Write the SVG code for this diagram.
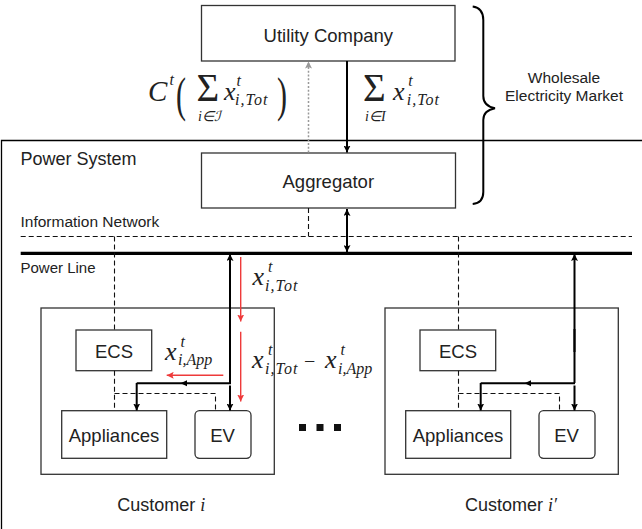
<svg xmlns="http://www.w3.org/2000/svg" width="642" height="529" viewBox="0 0 642 529">
<style>
.box{fill:#fff;stroke:#333;stroke-width:1.3}
.lbl{font-family:"Liberation Sans",Arial,sans-serif;fill:#222}
.node{font-size:18.5px;text-anchor:middle}
.small{font-size:15.5px}
.m{font-family:"Liberation Serif","Times New Roman",serif;font-style:italic;fill:#222}
.mr{font-family:"Liberation Serif","Times New Roman",serif;fill:#222}
.dash{fill:none;stroke:#111;stroke-width:1.1;stroke-dasharray:5 3}
.ln{fill:none;stroke:#000;stroke-width:2}
.red{fill:none;stroke:#ee3a3a;stroke-width:1.4;marker-end:url(#ahr)}
</style>
<defs>
<marker id="ah" viewBox="0 0 10 10" refX="10" refY="5" markerWidth="7" markerHeight="7" markerUnits="userSpaceOnUse" orient="auto-start-reverse"><path d="M0,0 L10,5 L0,10 L2,5 z" fill="#000"/></marker>
<marker id="ahr" viewBox="0 0 10 10" refX="10" refY="5" markerWidth="7" markerHeight="7" markerUnits="userSpaceOnUse" orient="auto"><path d="M0,0 L10,5 L0,10 L2,5 z" fill="#ee3a3a"/></marker>
<marker id="ahg" viewBox="0 0 10 10" refX="10" refY="5" markerWidth="7" markerHeight="7" markerUnits="userSpaceOnUse" orient="auto"><path d="M0,0 L10,5 L0,10 L2,5 z" fill="#999"/></marker>
</defs>
<rect width="642" height="529" fill="#fff"/>

<g id="power-system">
<path d="M642,140.5 H1.5 V529" fill="none" stroke="#000" stroke-width="1.3"/>
<text class="lbl" x="20.5" y="165" font-size="18px">Power System</text>
<text class="lbl small" x="20.5" y="227">Information Network</text>
<text class="lbl" x="20.5" y="272.5" font-size="15px">Power Line</text>
</g>

<g id="wholesale-market">
<path d="M472.7,6.5 Q483.3,8 483.3,20 V96 Q483.3,106 495,108.3 Q483.3,110.5 483.3,120 V192 Q483.3,203 472.7,204" fill="none" stroke="#000" stroke-width="2"/>
<text class="lbl small" x="564" y="83.3" text-anchor="middle">Wholesale</text>
<text class="lbl small" x="564" y="100.5" text-anchor="middle">Electricity Market</text>
</g>

<g id="utility-company">
<rect class="box" x="201.5" y="5.5" width="253.5" height="55.5"/>
<text class="lbl node" x="328.3" y="42">Utility Company</text>
</g>

<g id="aggregator">
<rect class="box" x="201.5" y="153" width="254" height="55"/>
<text class="lbl node" x="328.3" y="188.3">Aggregator</text>
</g>

<g id="networks">
<path class="dash" d="M20.7,236.5 H632"/>
<path d="M20.7,253.3 H632" stroke="#000" stroke-width="3.2"/>
</g>

<g id="customer-i">
<rect class="box" x="41" y="308" width="233.3" height="166.3"/>
<rect class="box" x="76" y="330" width="75.7" height="40.7"/>
<text class="lbl node" x="114" y="358">ECS</text>
<rect class="box" x="61.7" y="410.7" width="105" height="47.6"/>
<text class="lbl node" x="114" y="441.7">Appliances</text>
<rect class="box" x="195" y="410.7" width="56" height="47.6" rx="4.5"/>
<text class="lbl node" x="222.5" y="441.7">EV</text>
<text class="lbl" x="117.3" y="511" font-size="18px">Customer <tspan class="m">i</tspan></text>
</g>

<g id="customer-i-prime" transform="translate(344,0)">
<rect class="box" x="41" y="308" width="233.3" height="166.3"/>
<rect class="box" x="76" y="330" width="75.7" height="40.7"/>
<text class="lbl node" x="114" y="358">ECS</text>
<rect class="box" x="61.7" y="410.7" width="105" height="47.6"/>
<text class="lbl node" x="114" y="441.7">Appliances</text>
<rect class="box" x="195" y="410.7" width="56" height="47.6" rx="4.5"/>
<text class="lbl node" x="222.5" y="441.7">EV</text>
<text class="lbl" x="121" y="511" font-size="18px">Customer <tspan class="m">i′</tspan></text>
</g>

<g id="ellipsis" fill="#111">
<rect x="299" y="424" width="7" height="7"/>
<rect x="316.5" y="424" width="7" height="7"/>
<rect x="334" y="424" width="7" height="7"/>
</g>

<g id="connectors">
<path d="M308.5,152.5 V61.5" fill="none" stroke="#999" stroke-width="1.5" stroke-dasharray="2 1.8" marker-end="url(#ahg)"/>
<path class="ln" d="M347,61 V152.5" stroke-width="1.5" marker-end="url(#ah)"/>
<path class="dash" d="M308.5,208 V236.5"/>
<path class="ln" d="M347,209 V252" stroke-width="1.5" marker-start="url(#ah)" marker-end="url(#ah)"/>
<g id="conn-customer-i">
<path class="dash" d="M114.5,236.5 V330 M114.5,370.7 V410.7 M114.5,393.5 H215.5 V410.7"/>
<path class="ln" d="M230,383 V254" marker-end="url(#ah)"/>
<path class="ln" d="M230,340 V329 M230,340 V352 M230,397 V385.5 M230,397 V410.5" marker-end="url(#ah)"/>
<path class="ln" d="M231,383.3 H136.7" stroke-width="3"/>
<path class="ln" d="M136.7,383 V410.5" marker-end="url(#ah)"/>
<polygon points="180.5,383.3 187,380.3 187,386.3" fill="#000"/>
</g>
<g id="conn-customer-i-prime" transform="translate(344,0)">
<path class="dash" d="M114.5,236.5 V330 M114.5,370.7 V410.7 M114.5,393.5 H215.5 V410.7"/>
<path class="ln" d="M230.5,383 V254" marker-end="url(#ah)"/>
<path class="ln" d="M230.5,340 V329 M230.5,340 V352 M230.5,397 V385.5 M230.5,397 V410.5" marker-end="url(#ah)"/>
<path class="ln" d="M231,383.3 H136.7" stroke-width="3"/>
<path class="ln" d="M136.7,383 V410.5" marker-end="url(#ah)"/>
<polygon points="180.5,383.3 187,380.3 187,386.3" fill="#000"/>
</g>
<path class="red" d="M240.7,257 V321.5"/>
<path class="red" d="M240.7,331.7 V401.5"/>
<path class="red" d="M223.3,375.3 H166.7"/>
</g>

<g id="labels">
<text class="m" x="148" y="101" font-size="29px">C</text>
<text class="m" x="169.5" y="85" font-size="16px">t</text>
<text class="mr" font-size="30px" transform="translate(176,111) scale(1,1.65)">(</text>
<text class="mr" x="196.5" y="101" font-size="39px">Σ</text>
<text class="m" x="198" y="121" font-size="14px">i<tspan class="mr">∈</tspan>ℐ</text>
<text class="m" x="224" y="100" font-size="26px">x</text>
<text class="m" x="236.5" y="86" font-size="16px">t</text>
<text class="m" x="235" y="105" font-size="16px" letter-spacing="1">i,Tot</text>
<text class="mr" font-size="30px" transform="translate(277,111) scale(1,1.65)">)</text>

<text class="mr" x="363" y="100.5" font-size="39px">Σ</text>
<text class="m" x="365" y="121" font-size="14px">i<tspan class="mr">∈</tspan>I</text>
<text class="m" x="393" y="100" font-size="26px">x</text>
<text class="m" x="408.3" y="86" font-size="16px">t</text>
<text class="m" x="406.7" y="105" font-size="16px" letter-spacing="1">i,Tot</text>

<text class="m" x="252.5" y="285" font-size="26px">x</text>
<text class="m" x="268" y="271.5" font-size="16px">t</text>
<text class="m" x="265" y="290.5" font-size="16px" letter-spacing="1">i,Tot</text>

<text class="m" x="252" y="368" font-size="26px">x</text>
<text class="m" x="268" y="354.5" font-size="16px">t</text>
<text class="m" x="265" y="373.5" font-size="16px" letter-spacing="1">i,Tot</text>
<text class="mr" x="304" y="367.5" font-size="20px">−</text>
<text class="m" x="325" y="368" font-size="26px">x</text>
<text class="m" x="340.5" y="354.5" font-size="16px">t</text>
<text class="m" x="338" y="373.5" font-size="16px">i,App</text>

<text class="m" x="165" y="360" font-size="26px">x</text>
<text class="m" x="180.5" y="346.5" font-size="16px">t</text>
<text class="m" x="178" y="365" font-size="16px">i,App</text>
</g>
</svg>
